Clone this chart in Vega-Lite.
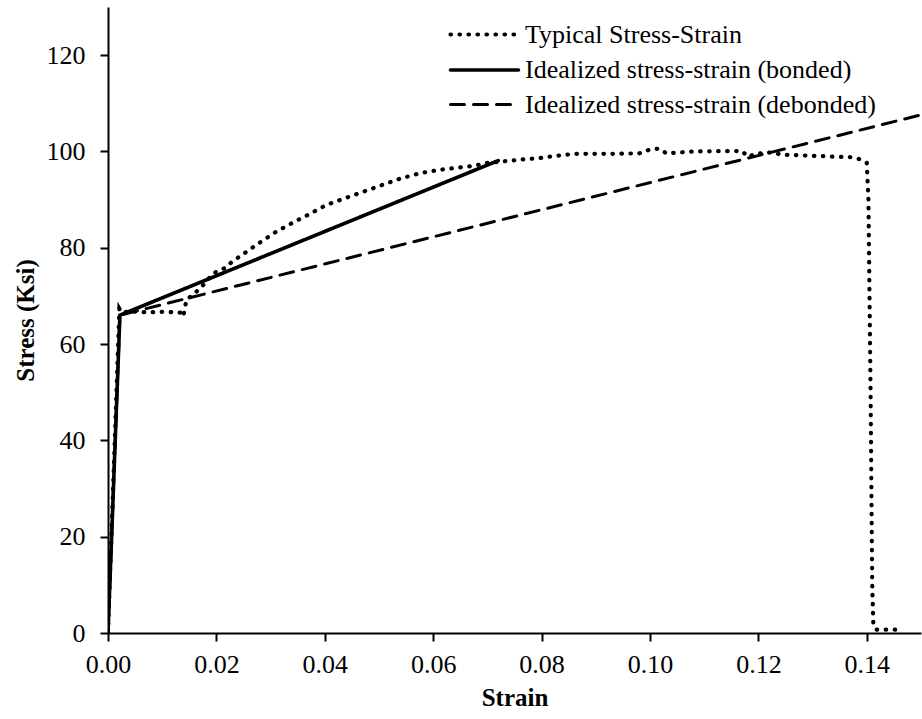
{
  "$schema": "https://vega.github.io/schema/vega-lite/v6.json",
  "width": 813,
  "height": 626,
  "autosize": {"type": "none"},
  "padding": {"left": 108, "top": 7, "right": 1, "bottom": 86},
  "background": "white",
  "config": {
    "view": {"stroke": null},
    "font": "Liberation Serif",
    "axis": {"grid": false, "domainColor": "black", "tickColor": "black", "labelColor": "black", "titleColor": "black", "domainWidth": 2, "tickWidth": 2, "tickSize": 8, "labelFont": "Liberation Serif", "titleFont": "Liberation Serif", "labelFontSize": 26, "titleFontSize": 25, "titleFontWeight": "bold", "labelFlush": false}
  },
  "data": {"values": [
    {"s": "Typical Stress-Strain", "strain": 0, "stress": 0},
    {"s": "Typical Stress-Strain", "strain": 0.0021, "stress": 67.3},
    {"s": "Typical Stress-Strain", "strain": 0.0025, "stress": 66.5},
    {"s": "Typical Stress-Strain", "strain": 0.004, "stress": 66.8},
    {"s": "Typical Stress-Strain", "strain": 0.007, "stress": 66.6},
    {"s": "Typical Stress-Strain", "strain": 0.010, "stress": 66.7},
    {"s": "Typical Stress-Strain", "strain": 0.0125, "stress": 66.6},
    {"s": "Typical Stress-Strain", "strain": 0.0137, "stress": 66.5},
    {"s": "Typical Stress-Strain", "strain": 0.0139, "stress": 65.8},
    {"s": "Typical Stress-Strain", "strain": 0.0141, "stress": 67.0},
    {"s": "Typical Stress-Strain", "strain": 0.0145, "stress": 69.3},
    {"s": "Typical Stress-Strain", "strain": 0.0157, "stress": 70.2},
    {"s": "Typical Stress-Strain", "strain": 0.0176, "stress": 72.3},
    {"s": "Typical Stress-Strain", "strain": 0.0194, "stress": 74.7},
    {"s": "Typical Stress-Strain", "strain": 0.0216, "stress": 75.8},
    {"s": "Typical Stress-Strain", "strain": 0.0228, "stress": 77.0},
    {"s": "Typical Stress-Strain", "strain": 0.0256, "stress": 79.2},
    {"s": "Typical Stress-Strain", "strain": 0.0283, "stress": 81.3},
    {"s": "Typical Stress-Strain", "strain": 0.031, "stress": 83.3},
    {"s": "Typical Stress-Strain", "strain": 0.0339, "stress": 85.1},
    {"s": "Typical Stress-Strain", "strain": 0.037, "stress": 86.9},
    {"s": "Typical Stress-Strain", "strain": 0.0403, "stress": 88.9},
    {"s": "Typical Stress-Strain", "strain": 0.045, "stress": 90.8},
    {"s": "Typical Stress-Strain", "strain": 0.05, "stress": 92.8},
    {"s": "Typical Stress-Strain", "strain": 0.054, "stress": 94.4},
    {"s": "Typical Stress-Strain", "strain": 0.0576, "stress": 95.5},
    {"s": "Typical Stress-Strain", "strain": 0.0613, "stress": 96.2},
    {"s": "Typical Stress-Strain", "strain": 0.0643, "stress": 96.6},
    {"s": "Typical Stress-Strain", "strain": 0.0674, "stress": 97.0},
    {"s": "Typical Stress-Strain", "strain": 0.0699, "stress": 97.6},
    {"s": "Typical Stress-Strain", "strain": 0.0726, "stress": 97.9},
    {"s": "Typical Stress-Strain", "strain": 0.076, "stress": 98.3},
    {"s": "Typical Stress-Strain", "strain": 0.0794, "stress": 98.6},
    {"s": "Typical Stress-Strain", "strain": 0.0828, "stress": 99.1},
    {"s": "Typical Stress-Strain", "strain": 0.0859, "stress": 99.5},
    {"s": "Typical Stress-Strain", "strain": 0.092, "stress": 99.5},
    {"s": "Typical Stress-Strain", "strain": 0.098, "stress": 99.6},
    {"s": "Typical Stress-Strain", "strain": 0.1, "stress": 100.4},
    {"s": "Typical Stress-Strain", "strain": 0.1017, "stress": 100.6},
    {"s": "Typical Stress-Strain", "strain": 0.103, "stress": 99.6},
    {"s": "Typical Stress-Strain", "strain": 0.108, "stress": 100.0},
    {"s": "Typical Stress-Strain", "strain": 0.117, "stress": 100.1},
    {"s": "Typical Stress-Strain", "strain": 0.118, "stress": 98.9},
    {"s": "Typical Stress-Strain", "strain": 0.1195, "stress": 99.5},
    {"s": "Typical Stress-Strain", "strain": 0.1218, "stress": 99.8},
    {"s": "Typical Stress-Strain", "strain": 0.125, "stress": 99.3},
    {"s": "Typical Stress-Strain", "strain": 0.13, "stress": 99.1},
    {"s": "Typical Stress-Strain", "strain": 0.137, "stress": 98.8},
    {"s": "Typical Stress-Strain", "strain": 0.1387, "stress": 98.4},
    {"s": "Typical Stress-Strain", "strain": 0.14, "stress": 97.6},
    {"s": "Typical Stress-Strain", "strain": 0.1403, "stress": 90},
    {"s": "Typical Stress-Strain", "strain": 0.1407, "stress": 50},
    {"s": "Typical Stress-Strain", "strain": 0.141, "stress": 10},
    {"s": "Typical Stress-Strain", "strain": 0.1412, "stress": 2.1},
    {"s": "Typical Stress-Strain", "strain": 0.1417, "stress": 0.7},
    {"s": "Typical Stress-Strain", "strain": 0.1467, "stress": 0.7},
    {"s": "Idealized stress-strain (bonded)", "strain": 0, "stress": 0},
    {"s": "Idealized stress-strain (bonded)", "strain": 0.0022, "stress": 66},
    {"s": "Idealized stress-strain (bonded)", "strain": 0.072, "stress": 98.1},
    {"s": "Idealized stress-strain (debonded)", "strain": 0, "stress": 0},
    {"s": "Idealized stress-strain (debonded)", "strain": 0.0022, "stress": 66},
    {"s": "Idealized stress-strain (debonded)", "strain": 0.15, "stress": 107.6}
  ]},
  "mark": {"type": "line", "color": "black", "strokeCap": "round", "clip": true},
  "encoding": {
    "x": {"field": "strain", "type": "quantitative", "title": "Strain",
      "scale": {"domain": [0, 0.15], "nice": false},
      "axis": {"values": [0, 0.02, 0.04, 0.06, 0.08, 0.1, 0.12, 0.14], "format": ".2f", "labelPadding": 10, "titlePadding": 8}},
    "y": {"field": "stress", "type": "quantitative", "title": "Stress (Ksi)",
      "scale": {"domain": [0, 130], "nice": false},
      "axis": {"values": [0, 20, 40, 60, 80, 100, 120], "labelPadding": 15, "titlePadding": 8}},
    "strokeWidth": {"field": "s", "type": "nominal",
      "scale": {"domain": ["Typical Stress-Strain", "Idealized stress-strain (bonded)", "Idealized stress-strain (debonded)"], "range": [4.2, 3, 3]},
      "legend": null},
    "strokeDash": {"field": "s", "type": "nominal",
      "scale": {"domain": ["Typical Stress-Strain", "Idealized stress-strain (bonded)", "Idealized stress-strain (debonded)"], "range": [[0.5, 8.5], [1, 0], [14, 9]]},
      "legend": {"title": null, "orient": "none", "legendX": 340, "legendY": 10, "padding": 0, "symbolType": "M-1,0H3.533", "symbolSize": 900, "symbolStrokeWidth": 3.5, "symbolStrokeColor": "black", "symbolFillColor": "transparent", "labelFontSize": 26, "labelFont": "Liberation Serif", "labelColor": "black", "labelOffset": 42, "labelLimit": 0, "rowPadding": 5,
        "encode": {"symbols": {"update": {"strokeCap": {"value": "round"}}}}}
    }
  }
}
